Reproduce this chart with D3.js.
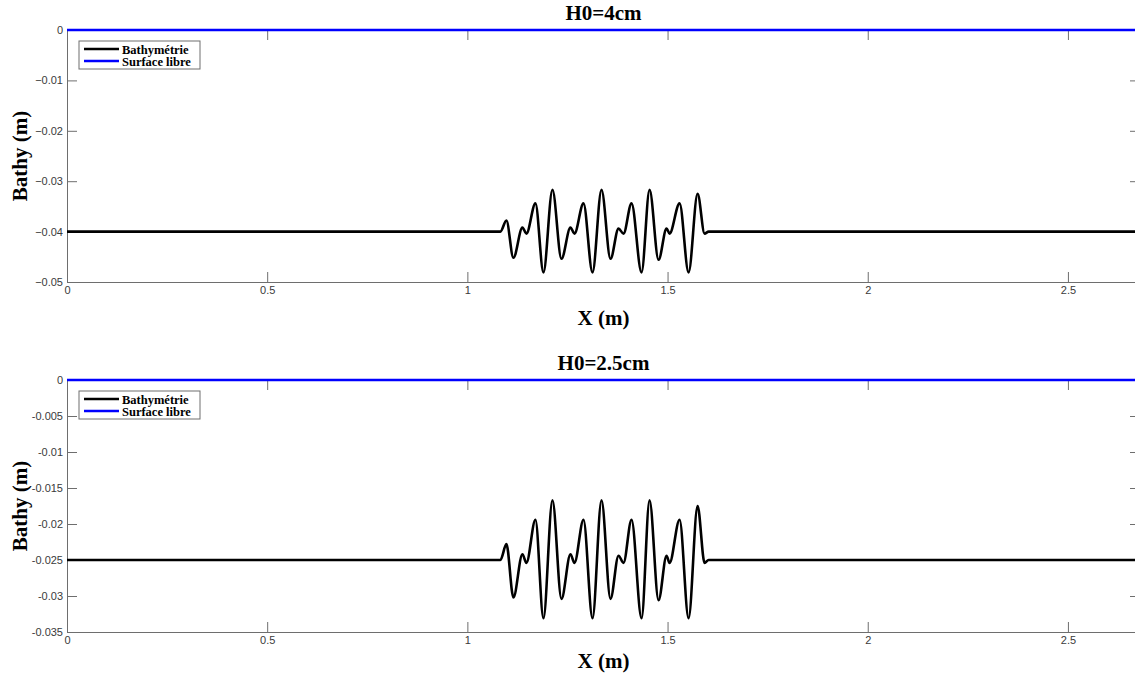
<!DOCTYPE html>
<html><head><meta charset="utf-8">
<script src="https://cdn.jsdelivr.net/npm/d3@7"></script>
<style>body{margin:0;background:#fff}svg{display:block}</style>
</head><body>
<script>
// ---- data ----
const titles = ["H0=4cm", "H0=2.5cm"];
const depths = [0.04, 0.025];            // still water depth H0 (m)
const yTicksTop = [0, -0.01, -0.02, -0.03, -0.04, -0.05];
const yTicksBottom = [0, -0.005, -0.01, -0.015, -0.02, -0.025, -0.03, -0.035];
const xTicks = [0, 0.5, 1, 1.5, 2, 2.5];
const xMax = 2.68;
// bed relief (m) relative to flat bottom, at positions X (m)
const reliefX = [0, 1.0825, 1.0975, 1.115, 1.1375, 1.1475, 1.17, 1.19, 1.2125, 1.235, 1.2575, 1.2675,
  1.29, 1.3125, 1.335, 1.3575, 1.3775, 1.39, 1.41, 1.435, 1.455, 1.4775, 1.4975, 1.505,
  1.53, 1.5525, 1.575, 1.5925, 1.6025, 1.6125, 2.68];
const reliefZ = [0, 0, 0.0022, -0.0052, 0.0008, -0.0004, 0.0056, -0.0081, 0.0083, -0.0054, 0.0008, -0.0004,
  0.0056, -0.0081, 0.0083, -0.0054, 0.0006, -0.0004, 0.0056, -0.0081, 0.0083, -0.0056, 0.0006, -0.0004,
  0.0056, -0.0081, 0.0075, -0.0004, 0, 0, 0];
const legendLabels = ["Bathymétrie", "Surface libre"];

// ---- drawing ----
const W = 1135, H = 686;
const svg = d3.select("body").append("svg").attr("width", W).attr("height", H);
const panels = [
  {top: 30, bottom: 282, yMin: -0.05, ticks: yTicksTop, fmt: d => d === 0 ? "0" : d3.format("")(+d.toFixed(2))},
  {top: 380, bottom: 632, yMin: -0.035, ticks: yTicksBottom, fmt: d => d === 0 ? "0" : String(+d.toFixed(3))}
];
const left = 67, right = 1140;
const axisColor = "#6e6e6e", textColor = "#3a3a3a";
const serif = "'Liberation Serif','Times New Roman',serif";
const sans = "'Liberation Sans',Arial,sans-serif";

panels.forEach((p, i) => {
  const x = d3.scaleLinear().domain([0, xMax]).range([left, right]);
  const y = d3.scaleLinear().domain([p.yMin, 0]).range([p.bottom, p.top]);
  const g = svg.append("g");

  // axes (box with inward ticks)
  const ax = [
    g.append("g").attr("transform", `translate(0,${p.bottom})`).call(d3.axisBottom(x).tickValues(xTicks).tickSize(-10).tickPadding(14).tickFormat(d => String(d))),
    g.append("g").attr("transform", `translate(0,${p.top})`).call(d3.axisTop(x).tickValues(xTicks).tickSize(-10).tickFormat("")),
    g.append("g").attr("transform", `translate(${left},0)`).call(d3.axisLeft(y).tickValues(p.ticks).tickSize(-10).tickPadding(14).tickFormat(p.fmt)),
    g.append("g").attr("transform", `translate(${right},0)`).call(d3.axisRight(y).tickValues(p.ticks).tickSize(-10).tickFormat(""))
  ];
  ax.forEach(a => {
    a.select(".domain").attr("stroke", axisColor).attr("stroke-width", 1);
    a.selectAll(".tick line").attr("stroke", axisColor).attr("stroke-width", 1);
    a.selectAll(".tick text").attr("fill", textColor).style("font-family", sans).style("font-size", "11px");
  });
  ax[0].selectAll(".tick text").attr("dy", "0.71em").attr("y", 4);
  ax[2].selectAll(".tick text").attr("x", -4);

  // lines
  const bathy = reliefX.map((xv, k) => [xv, -depths[i] + reliefZ[k]]);
  const line = d3.line().x(d => x(d[0])).y(d => y(d[1])).curve(d3.curveMonotoneX);
  g.append("path").datum(bathy).attr("d", line).attr("fill", "none").attr("stroke", "#000").attr("stroke-width", 2.6).attr("stroke-linejoin", "round");
  g.append("path").datum([[0, 0], [xMax, 0]]).attr("d", d3.line().x(d => x(d[0])).y(d => y(d[1])))
    .attr("fill", "none").attr("stroke", "#0000ff").attr("stroke-width", 2.6);

  // title and labels
  g.append("text").attr("x", (left + right) / 2).attr("y", p.top - 10).attr("text-anchor", "middle")
    .style("font-family", serif).style("font-weight", "bold").style("font-size", "21px").attr("fill", "#000").text(titles[i]);
  g.append("text").attr("x", (left + right) / 2).attr("y", p.bottom + (i === 0 ? 43 : 36)).attr("text-anchor", "middle")
    .style("font-family", serif).style("font-weight", "bold").style("font-size", "21px").attr("fill", "#000").text("X (m)");
  g.append("text").attr("transform", `translate(27,${(p.top + p.bottom) / 2}) rotate(-90)`).attr("text-anchor", "middle")
    .style("font-family", serif).style("font-weight", "bold").style("font-size", "21px").attr("fill", "#000").text("Bathy (m)");

  // legend
  const lg = g.append("g").attr("transform", `translate(79,${p.top + 11})`);
  lg.append("rect").attr("width", 121).attr("height", 28).attr("fill", "#fff").attr("stroke", axisColor).attr("stroke-width", 1);
  legendLabels.forEach((lab, k) => {
    const cy = 8 + k * 12;
    lg.append("line").attr("x1", 5).attr("x2", 40).attr("y1", cy).attr("y2", cy)
      .attr("stroke", k === 0 ? "#000" : "#0000ff").attr("stroke-width", 2.6);
    lg.append("text").attr("x", 43).attr("y", cy + 4.5).style("font-family", serif).style("font-weight", "bold")
      .style("font-size", "12.5px").attr("fill", "#000").text(lab);
  });
});
</script>
</body></html>
